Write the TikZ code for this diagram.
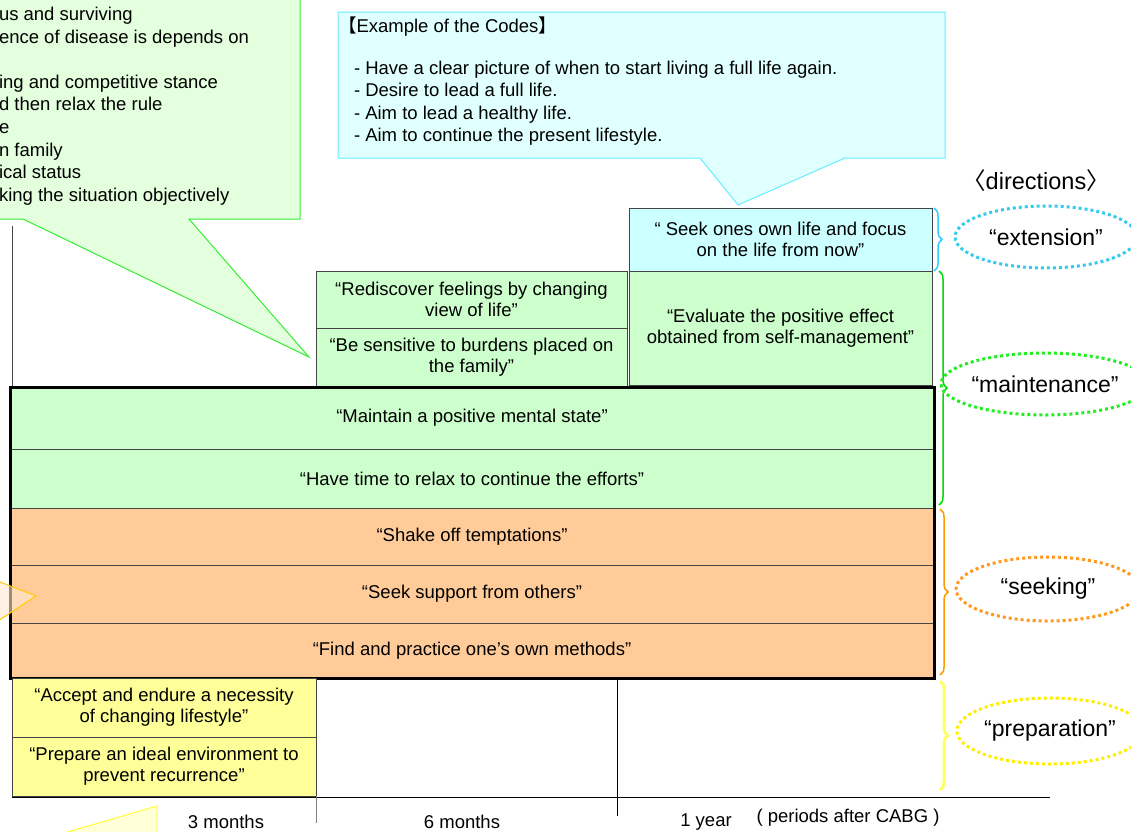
\documentclass[tikz,border=0pt]{standalone}
\usepackage{fontspec}
\setmainfont{Liberation Sans}
\newfontfamily\cjkfont{Noto Sans CJK JP}
\usetikzlibrary{shapes.geometric,decorations.pathreplacing}
\definecolor{boxgreen}{HTML}{CCFFCC}
\definecolor{boxcyan}{HTML}{CCFFFF}
\definecolor{boxorange}{HTML}{FFCC99}
\definecolor{boxyellow}{HTML}{FFFF99}
\definecolor{lineg}{HTML}{444444}
\definecolor{calgreen}{HTML}{E4FFDE}
\definecolor{calgreenline}{HTML}{33EE33}
\definecolor{calcyan}{HTML}{E0FFFF}
\definecolor{calcyanline}{HTML}{66EEFF}
\definecolor{calorange}{HTML}{FFE8D0}
\definecolor{calorangeline}{HTML}{FFCC00}
\definecolor{calyellow}{HTML}{FFFFD8}
\definecolor{calyellowline}{HTML}{FFFF33}
\definecolor{brcyan}{HTML}{33CCFF}
\definecolor{brgreen}{HTML}{00DD00}
\definecolor{brorange}{HTML}{FF9900}
\definecolor{bryellow}{HTML}{FFFF66}
\definecolor{elcyan}{HTML}{33CCEE}
\definecolor{elgreen}{HTML}{22EE22}
\definecolor{elorange}{HTML}{FF9922}
\definecolor{elyellow}{HTML}{FFEE00}
\begin{document}
\begin{tikzpicture}[x=1pt,y=-1pt,
  every node/.style={font=\fontsize{18.5}{21}\selectfont, inner sep=0pt, outer sep=0pt},
  cell/.style 2 args={draw=lineg, line width=0.8pt, fill=#1, align=center, minimum width=#2, anchor=center},
  callout/.style={line width=1pt},
  brc/.style={decorate, decoration={brace, amplitude=8pt}, line width=1.5pt},
  phase/.style={ellipse, dash pattern=on 3pt off 3pt, line width=3pt, minimum width=182pt, minimum height=62pt, font=\fontsize{23}{27}\selectfont},
  axislabel/.style={font=\fontsize{18.5}{21}\selectfont}
]
\useasboundingbox (0,0) rectangle (1131,831);
\clip (0,0) rectangle (1131,831);
\fill[white] (0,0) rectangle (1131,831);

% left callout (cut off)
\draw[callout, draw=calgreenline, fill=calgreen] (-5,-5) -- (300,-5) -- (300,219) -- (189,219) -- (309,357) -- (23,219) -- (-5,219) -- cycle;
\node[anchor=north west, align=left, font=\fontsize{18.5}{22.6}\selectfont] (lefttext) at (-1,7)
 {us and surviving\\ence of disease is depends on\\[22.6pt]ing and competitive stance\\d then relax the rule\\e\\n family\\ical status\\king the situation objectively};

% top callout
\draw[callout, draw=calcyanline, fill=calcyan] (338,12) -- (945,12) -- (945,158) -- (845,158) -- (738,205) -- (700,158) -- (338,158) -- cycle;
\node[anchor=west] (codehead) at (338,27) {{\cjkfont 【}Example of the Codes{\cjkfont 】}};
\node[anchor=north west, align=left, font=\fontsize{18.5}{22.4}\selectfont] (codes) at (354,61)
 {- Have a clear picture of when to start living a full life again.\\- Desire to lead a full life.\\- Aim to lead a healthy life.\\- Aim to continue the present lifestyle.};

% left vertical line
\draw[lineg, line width=0.8pt] (12,226) -- (12,387);

% upper boxes
\node[cell={boxcyan}{303pt}, minimum height=63pt] (ext) at (780.5,239.5) {“ Seek ones own life and focus\\on the life from now”};
\node[cell={boxgreen}{303pt}, minimum height=114pt] (eval) at (780.5,328) {“Evaluate the positive effect\\obtained from self-management”};
\node[cell={boxgreen}{311pt}, minimum height=57pt] (redisc) at (471.5,299.5) {“Rediscover feelings by changing\\view of life”};
\node[cell={boxgreen}{311pt}, minimum height=58pt] (sens) at (471.5,357) {“Be sensitive to burdens placed on\\the family”};

% main rows
\node[cell={boxgreen}{924pt}, minimum height=62pt] (maint) at (472,418) {“Maintain a positive mental state”};
\node[cell={boxgreen}{924pt}, minimum height=59pt] (relax) at (472,478.5) {“Have time to relax to continue the efforts”};
\node[cell={boxorange}{924pt}, minimum height=57pt] (shake) at (472,536.5) {“Shake off temptations”};
\node[cell={boxorange}{924pt}, minimum height=58pt] (support) at (472,594) {“Seek support from others”};
\node[cell={boxorange}{924pt}, minimum height=55pt] (find) at (472,650.5) {“Find and practice one’s own methods”};
\draw[black, line width=3pt] (10,387) rectangle (934,678);

% lower boxes
\node[cell={boxyellow}{304pt}, minimum height=59pt] (accept) at (164,707.5) {“Accept and endure a necessity\\of changing lifestyle”};
\node[cell={boxyellow}{304pt}, minimum height=59pt] (prepare) at (164,766.5) {“Prepare an ideal environment to\\prevent recurrence”};

% small callout pointer on the left
\draw[callout, draw=calorangeline, fill=calorange, fill opacity=0.6] (-5,580) -- (36,596) -- (-5,623);
% bottom-left callout fragment
\draw[callout, draw=calyellowline, fill=calyellow] (57,835) -- (157,806) -- (157,835);

% axis
\draw[black, line width=0.8pt] (12,797) -- (1050,797);
\draw[gray, line width=0.8pt] (316,796) -- (316,823);
\draw[black, line width=0.8pt] (617,679) -- (617,816);
\node[axislabel] (m3) at (226,822) {3 months};
\node[axislabel] (m6) at (462,822) {6 months};
\node[axislabel] (y1) at (706,822) {1 year};
\node[axislabel] (period) at (848,818) {( periods after CABG )};

% directions
\node[font=\fontsize{23.5}{27}\selectfont] (dirs) at (1036,181) {{\cjkfont 〈}directions{\cjkfont 〉}};

% braces
\draw[brc, brcyan] (934,208) -- (934,271);
\draw[brc, brgreen] (939,271) -- (939,505);
\draw[brc, brorange] (940,509) -- (940,675);
\draw[brc, bryellow, line width=3pt] (940,681) -- (940,790);

% phase ellipses
\node[phase, draw=elcyan] (pext) at (1046,237) {“extension”};
\node[phase, draw=elgreen] (pmaint) at (1045,384) {“maintenance”};
\node[phase, draw=elorange, minimum width=184pt, minimum height=64pt] (pseek) at (1048,589) {“seeking”};
\node[phase, draw=elyellow, minimum height=66pt] (pprep) at (1050,731) {“preparation”};
\end{tikzpicture}
\end{document}
